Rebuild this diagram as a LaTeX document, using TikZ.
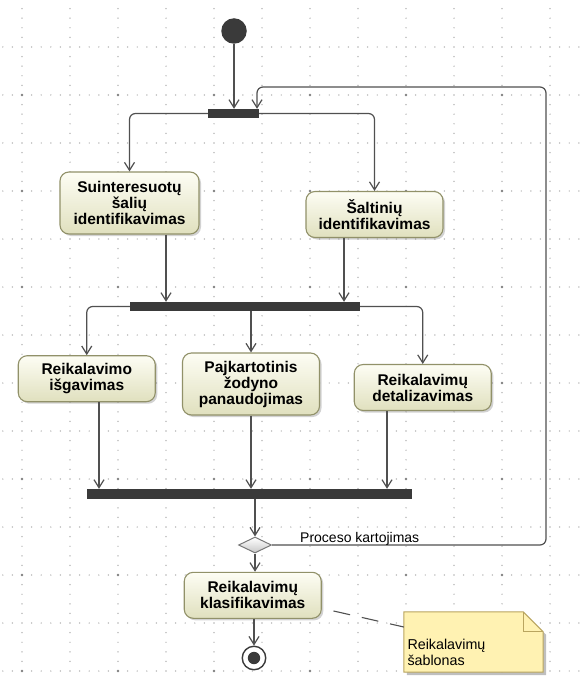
\documentclass[tikz,border=0pt]{standalone}
\usepackage{fontspec}
\setmainfont{Liberation Sans}
\usetikzlibrary{arrows.meta,shapes.geometric,shadows,calc}

\definecolor{griddot}{RGB}{165,165,165}
\definecolor{gridmajor}{RGB}{130,130,130}
\definecolor{flowline}{RGB}{80,80,80}
\definecolor{barfill}{RGB}{58,58,58}
\definecolor{actborder}{RGB}{145,145,105}
\definecolor{acttop}{RGB}{253,253,244}
\definecolor{actbottom}{RGB}{224,224,190}
\definecolor{notefill}{RGB}{255,242,178}
\definecolor{noteborder}{RGB}{185,165,95}
\definecolor{decborder}{RGB}{120,120,120}

\pgfdeclarelayer{grid}
\pgfdeclarelayer{background}
\pgfsetlayers{grid,background,main}

\begin{document}
\begin{tikzpicture}[x=1pt,y=-1pt,
  action/.style={rectangle, rounded corners=9pt, draw=actborder, line width=1.1pt,
    top color=acttop, bottom color=actbottom,
    minimum width=137pt, minimum height=46pt, align=center, inner sep=2pt,
    font=\bfseries\fontsize{15.5}{16}\selectfont,
    drop shadow={shadow xshift=2pt, shadow yshift=-2pt, opacity=0.35}},
  syncbar/.style={rectangle, fill=barfill, inner sep=0pt, minimum height=9pt},
  initnode/.style={circle, fill=barfill, minimum size=25.5pt, inner sep=0pt},
  finalnode/.style={circle, draw=barfill, line width=1.4pt, fill=white,
    minimum size=23.5pt, inner sep=0pt,
    path picture={\fill[barfill] (path picture bounding box.center) circle (6.2pt);}},
  decision/.style={diamond, draw=decborder, line width=1pt, top color=white,
    bottom color=black!22, minimum width=33pt, minimum height=16pt,
    inner sep=0pt, aspect=2},
  flow/.style={draw=flowline, line width=1.2pt, rounded corners=6pt,
    -{Straight Barb[length=8pt,width=10pt]}},
  notelink/.style={draw=flowline, line width=1.1pt,
    dash pattern=on 17pt off 12pt, dash phase=17pt},
  notebody/.style={fill=notefill, draw=noteborder, line width=1pt},
  lbl/.style={font=\fontsize{14}{16}\selectfont, inner sep=0pt},
  notetext/.style={font=\fontsize{14.3}{16.5}\selectfont, align=left, inner sep=0pt}]

\useasboundingbox (0,0) rectangle (581,679);

% dotted drawing grid
\begin{pgfonlayer}{grid}
  \fill[white] (0,0) rectangle (581,679);
  \foreach \gx in {22,70,...,550}
    \foreach \k in {0,...,69}
      \fill[griddot] ({\gx},{8.6+9.6*\k}) circle (0.7pt);
  \foreach \gy in {47,95,...,671}
    \foreach \k in {0,...,60}
      \fill[griddot] ({2.8+9.6*\k},{\gy}) circle (0.7pt);
  \foreach \gx in {22,118,...,550}
    \foreach \gy in {95,191,...,671}
      \fill[gridmajor] ({\gx},{\gy}) circle (1.3pt);
\end{pgfonlayer}

% nodes
\node[initnode] (start) at (234,31) {};
\node[syncbar, minimum width=51pt] (fork1) at (233.5,113.5) {};
\node[action, minimum width=139pt, minimum height=62pt] (s1) at (129.5,203)
  {Suinteresuotų\\šalių\\identifikavimas};
\node[action] (s2) at (374.5,214.5) {Šaltinių\\identifikavimas};
\node[syncbar, minimum width=230pt] (fork2) at (245,306.5) {};
\node[action] (r1) at (86.75,378.7) {Reikalavimo\\išgavimas};
\node[action, minimum height=62pt] (r2) at (251,384)
  {Pajkartotinis\\žodyno\\panaudojimas};
\node[action] (r3) at (422.75,387.5) {Reikalavimų\\detalizavimas};
\node[syncbar, minimum width=325pt, minimum height=10pt] (join) at (249.5,494) {};
\node[decision] (dec) at (255,545) {};
\node[action] (klas) at (252.75,595.3) {Reikalavimų\\klasifikavimas};
\node[finalnode] (end) at (254,658) {};

% note with folded corner
\node[minimum width=139pt, minimum height=60pt, inner sep=0pt] (note) at (473.5,642) {};
\begin{pgfonlayer}{background}
  \fill[black, opacity=0.25]
    ([xshift=3pt,yshift=-3pt]note.north west) -- ([xshift=-17pt,yshift=-3pt]note.north east)
    -- ([xshift=3pt,yshift=-23pt]note.north east) -- ([xshift=3pt,yshift=-3pt]note.south east)
    -- ([xshift=3pt,yshift=-3pt]note.south west) -- cycle;
  \draw[notebody] (note.north west) -- ([xshift=-20pt]note.north east)
    -- ([yshift=-20pt]note.north east) -- (note.south east) -- (note.south west) -- cycle;
  \draw[noteborder, line width=1pt] ([xshift=-20pt]note.north east)
    -- ([xshift=-20pt,yshift=-20pt]note.north east) -- ([yshift=-20pt]note.north east);
\end{pgfonlayer}
\node[notetext, anchor=north west] (notelabel) at ([xshift=3.5pt,yshift=-27pt]note.north west)
  {Reikalavimų\\šablonas};

% connector anchor points below the actions
\coordinate (s1out) at ([xshift=36.5pt]s1.south);
\coordinate (s2out) at ([xshift=-30.5pt]s2.south);
\coordinate (r1out) at ([xshift=12.25pt]r1.south);
\coordinate (r3out) at ([xshift=-35.75pt]r3.south);
\coordinate (loopTR) at (546,87);

% control flows
\draw[flow] (start.south) -- (start.south |- fork1.north);
\draw[flow] (fork1.west) -| (s1.north);
\draw[flow] (fork1.east) -| (s2.north);
\draw[flow] (s1out) -- (s1out |- fork2.north);
\draw[flow] (s2out) -- (s2out |- fork2.north);
\draw[flow] (fork2.west) -| (r1.north);
\draw[flow] (r2.north |- fork2.south) -- (r2.north);
\draw[flow] (fork2.east) -| (r3.north);
\draw[flow] (r1out) -- (r1out |- join.north);
\draw[flow] (r2.south) -- (r2.south |- join.north);
\draw[flow] (r3out) -- (r3out |- join.north);
\draw[flow] (dec.north |- join.south) -- (dec.north);
\draw[flow] (dec.south) -- (dec.south |- klas.north);
\draw[flow] (klas.south -| end) -- (end.north);
\draw[flow] (dec.east) -| (loopTR) -| ([xshift=23.5pt]fork1.north);

\node[lbl, anchor=base west] (looplabel) at (300,542) {Proceso kartojimas};

% note attachment
\draw[notelink] ([yshift=-13pt]klas.east) -- ([yshift=15pt]note.west);

\end{tikzpicture}
\end{document}
